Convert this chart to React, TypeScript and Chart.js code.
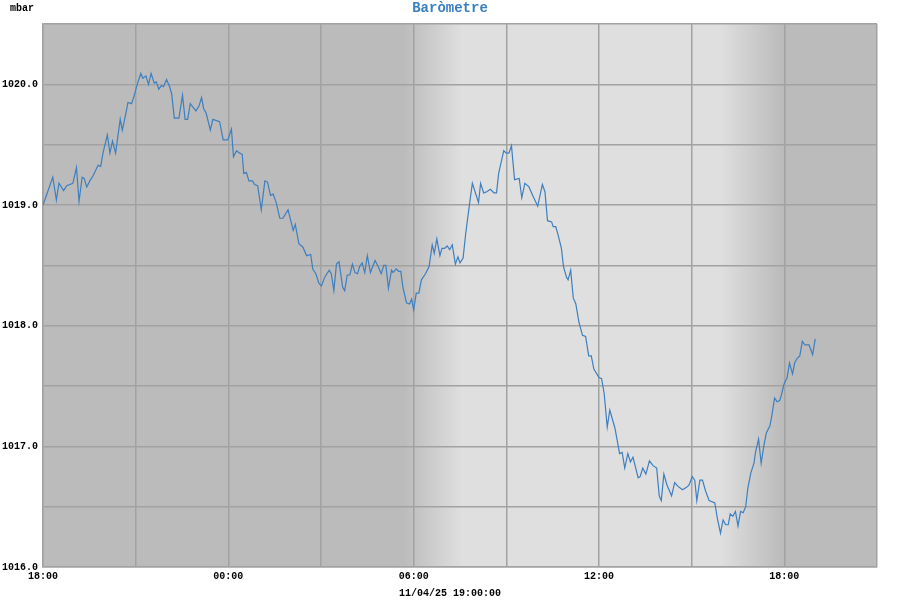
import { useEffect, useRef } from "react";
import { Chart, registerables } from "chart.js";

Chart.register(...registerables);

// minutes since 18:00 (day before), and pressure in mbar
const minutes = [
  0, 19, 26, 31, 40, 46, 58, 65, 70, 76,
  80, 85, 91, 97, 107, 112, 117, 125, 130, 135,
  141, 150, 154, 161, 165, 172, 176, 183, 190, 194,
  200, 205, 210, 216, 220, 225, 230, 234, 240, 246,
  250, 255, 264, 271, 276, 281, 286, 297, 303, 308,
  312, 317, 325, 330, 343, 350, 359, 366, 370, 376,
  382, 387, 390, 395, 400, 407, 411, 417, 424, 431,
  436, 442, 447, 453, 460, 466, 476, 486, 490, 497,
  505, 512, 520, 524, 530, 536, 541, 547, 556, 560,
  565, 570, 575, 582, 586, 591, 596, 601, 606, 611,
  615, 620, 625, 630, 636, 645, 651, 657, 662, 666,
  671, 677, 680, 686, 691, 695, 699, 706, 712, 716,
  720, 725, 730, 735, 743, 750, 756, 760, 765, 771,
  775, 780, 785, 790, 795, 801, 806, 810, 816, 821,
  827, 834, 846, 850, 856, 862, 869, 876, 881, 885,
  895, 900, 905, 910, 916, 925, 930, 936, 944, 951,
  961, 970, 975, 980, 988, 991, 996, 1000, 1007, 1011,
  1017, 1020, 1025, 1030, 1035, 1041, 1048, 1054, 1060, 1065,
  1070, 1080, 1085, 1090, 1096, 1101, 1111, 1120, 1125, 1130,
  1136, 1141, 1146, 1156, 1160, 1165, 1171, 1178, 1185, 1192,
  1197, 1201, 1206, 1212, 1221, 1227, 1233, 1242, 1250, 1255,
  1261, 1266, 1270, 1276, 1281, 1287, 1294, 1305, 1310, 1316,
  1321, 1326, 1331, 1335, 1340, 1345, 1350, 1355, 1360, 1365,
  1369, 1375, 1381, 1384, 1390, 1395, 1400, 1405, 1412, 1416,
  1421, 1426, 1431, 1434, 1439, 1443, 1445, 1450, 1456, 1460,
  1465, 1470, 1475, 1480, 1488, 1495, 1500,
];

const pressure = [
  1019.0, 1019.23, 1019.04, 1019.18, 1019.12, 1019.16, 1019.18, 1019.31, 1019.03, 1019.23,
  1019.22, 1019.15, 1019.2, 1019.24, 1019.33, 1019.32, 1019.44, 1019.58, 1019.43, 1019.53,
  1019.43, 1019.71, 1019.62, 1019.76, 1019.85, 1019.84, 1019.89, 1020.0, 1020.09, 1020.05,
  1020.07, 1020.0, 1020.09, 1020.01, 1020.02, 1019.96, 1019.99, 1019.98, 1020.04, 1019.98,
  1019.92, 1019.72, 1019.72, 1019.91, 1019.71, 1019.71, 1019.84, 1019.78, 1019.82, 1019.89,
  1019.8, 1019.76, 1019.62, 1019.71, 1019.69, 1019.54, 1019.54, 1019.63, 1019.4, 1019.45,
  1019.43, 1019.42, 1019.26, 1019.27, 1019.2, 1019.2, 1019.17, 1019.16, 1018.96, 1019.2,
  1019.19, 1019.08, 1019.09, 1019.02, 1018.89, 1018.89, 1018.96, 1018.79, 1018.84, 1018.68,
  1018.65, 1018.58, 1018.59, 1018.47, 1018.43, 1018.35, 1018.33, 1018.4, 1018.46, 1018.43,
  1018.29, 1018.51, 1018.53, 1018.32, 1018.29, 1018.42, 1018.42, 1018.51, 1018.44, 1018.43,
  1018.49, 1018.52, 1018.44, 1018.58, 1018.44, 1018.54, 1018.49, 1018.43, 1018.5, 1018.5,
  1018.31, 1018.46, 1018.44, 1018.47, 1018.45, 1018.45, 1018.32, 1018.19, 1018.18, 1018.22,
  1018.13, 1018.27, 1018.27, 1018.38, 1018.43, 1018.49, 1018.67, 1018.6, 1018.72, 1018.58,
  1018.64, 1018.64, 1018.66, 1018.63, 1018.67, 1018.51, 1018.57, 1018.52, 1018.56, 1018.76,
  1018.96, 1019.18, 1019.02, 1019.18, 1019.1, 1019.11, 1019.13, 1019.1, 1019.1, 1019.26,
  1019.45, 1019.43, 1019.43, 1019.49, 1019.21, 1019.22, 1019.06, 1019.18, 1019.15, 1019.08,
  1018.99, 1019.17, 1019.11, 1018.87, 1018.86, 1018.82, 1018.82, 1018.76, 1018.64, 1018.49,
  1018.4, 1018.38, 1018.46, 1018.23, 1018.18, 1018.03, 1017.92, 1017.91, 1017.75, 1017.75,
  1017.64, 1017.57, 1017.56, 1017.44, 1017.16, 1017.3, 1017.15, 1016.94, 1016.95, 1016.82,
  1016.94, 1016.87, 1016.91, 1016.74, 1016.75, 1016.82, 1016.77, 1016.88, 1016.84, 1016.82,
  1016.59, 1016.55, 1016.77, 1016.68, 1016.59, 1016.7, 1016.67, 1016.64, 1016.66, 1016.68,
  1016.75, 1016.72, 1016.55, 1016.72, 1016.72, 1016.63, 1016.55, 1016.53, 1016.4, 1016.28,
  1016.39, 1016.35, 1016.35, 1016.44, 1016.42, 1016.46, 1016.34, 1016.46, 1016.45, 1016.5,
  1016.65, 1016.78, 1016.86, 1016.95, 1017.06, 1016.86, 1017.0, 1017.11, 1017.17, 1017.26,
  1017.4, 1017.37, 1017.38, 1017.42, 1017.51, 1017.55, 1017.56, 1017.69, 1017.6, 1017.69,
  1017.73, 1017.75, 1017.87, 1017.84, 1017.84, 1017.76, 1017.89,
];

const xTickLabels = ["18:00", "00:00", "06:00", "12:00", "18:00"];
const xMax = 1620; // 27 hours in minutes
const yMin = 1016.0;
const yMax = 1020.5;

// twilight windows in minutes since 18:00: [night end -> day start], [day end -> night start]
const dawn = [700, 815];
const dusk = [1315, 1437];

const titleText = "Baròmetre";
const unitText = "mbar";
const stampText = "11/04/25 19:00:00";

const NIGHT = "#bbbbbb";
const DAY = "#dfdfdf";
const GRID = "#a2a2a2";
const FONT = "'Liberation Mono', 'DejaVu Sans Mono', monospace";

export default function App() {
  const ref = useRef<HTMLCanvasElement | null>(null);

  useEffect(() => {
    document.body.style.margin = "0";
    const canvas = ref.current;
    if (!canvas) return;

    const bgPlugin = {
      id: "dayNight",
      beforeDraw(chart: any) {
        const { ctx, chartArea, scales } = chart;
        const { left, right, top, bottom } = chartArea;
        const x = scales.x;
        const w = right - left;
        const f = (v: number) => Math.min(1, Math.max(0, (x.getPixelForValue(v) - left) / w));
        const g = ctx.createLinearGradient(left, 0, right, 0);
        g.addColorStop(0, NIGHT);
        g.addColorStop(f(dawn[0]), NIGHT);
        g.addColorStop(f(dawn[1]), DAY);
        g.addColorStop(f(dusk[0]), DAY);
        g.addColorStop(f(dusk[1]), NIGHT);
        g.addColorStop(1, NIGHT);
        ctx.save();
        ctx.fillStyle = g;
        ctx.fillRect(left, top, w, bottom - top);
        ctx.restore();
      },
      afterDraw(chart: any) {
        const { ctx } = chart;
        ctx.save();
        ctx.textBaseline = "middle";
        ctx.fillStyle = "#3a7fc2";
        ctx.font = `bold 14px ${FONT}`;
        ctx.textAlign = "center";
        ctx.fillText(titleText, 450, 8);
        ctx.fillStyle = "#000";
        ctx.font = `bold 10px ${FONT}`;
        ctx.textAlign = "left";
        ctx.fillText(unitText, 10, 8);
        ctx.textAlign = "center";
        ctx.fillText(stampText, 450, 593);
        ctx.restore();
      },
    };

    const chart = new Chart(canvas, {
      type: "line",
      data: {
        datasets: [
          {
            data: minutes.map((m, i) => ({ x: m, y: pressure[i] })),
            borderColor: "#3d7fc0",
            borderWidth: 1.2,
            pointRadius: 0,
            tension: 0,
            fill: false,
          },
        ],
      },
      options: {
        animation: false,
        responsive: false,
        maintainAspectRatio: false,
        layout: { padding: { top: 24, right: 23, left: 0, bottom: 0 } },
        plugins: {
          legend: { display: false },
          tooltip: { enabled: false },
          title: { display: false },
        },
        scales: {
          x: {
            type: "linear",
            min: 0,
            max: xMax,
            afterFit(scale: any) {
              scale.height = 33;
            },
            grid: { color: GRID, lineWidth: 1.5, drawTicks: false },
            border: { display: true, color: GRID, width: 1.5 },
            ticks: {
              stepSize: 180,
              autoSkip: false,
              maxRotation: 0,
              padding: 3,
              color: "#000",
              font: { family: FONT, size: 10, weight: "bold" },
              callback: (v: any) => {
                const n = Number(v);
                return n % 360 === 0 ? xTickLabels[n / 360] ?? "" : "";
              },
            },
          },
          y: {
            type: "linear",
            min: yMin,
            max: yMax,
            afterFit(scale: any) {
              scale.width = 43;
            },
            grid: { color: GRID, lineWidth: 1.5, drawTicks: false },
            border: { display: true, color: GRID, width: 1.5 },
            ticks: {
              stepSize: 0.5,
              padding: 5,
              color: "#000",
              font: { family: FONT, size: 10, weight: "bold" },
              callback: (v: any) => {
                const n = Number(v);
                return Math.abs(n - Math.round(n)) < 1e-6 ? n.toFixed(1) : "";
              },
            },
          },
        },
      },
      plugins: [bgPlugin],
    } as any);

    return () => chart.destroy();
  }, []);

  return <canvas ref={ref} width={900} height={600} style={{ display: "block" }} />;
}
